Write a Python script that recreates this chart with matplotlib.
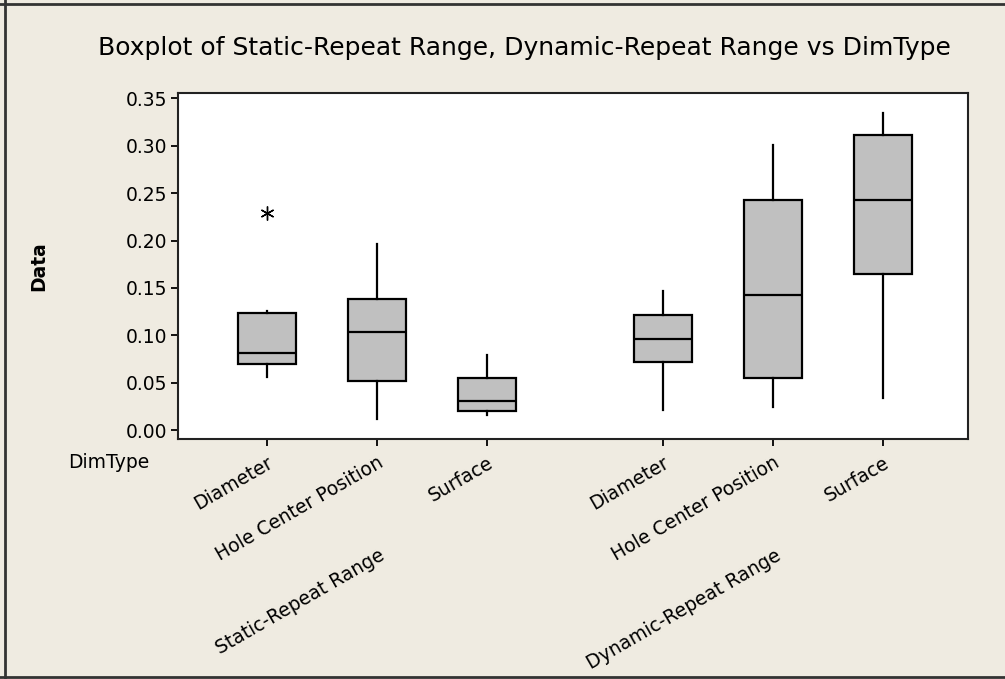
import matplotlib
matplotlib.use("Agg")
import matplotlib.pyplot as plt
from matplotlib.transforms import blended_transform_factory
from matplotlib.lines import Line2D

# ---- data ----
groups = ["Static-Repeat Range", "Dynamic-Repeat Range"]
categories = ["Diameter", "Hole Center Position", "Surface"]
whislo = [0.0566, 0.0119, 0.0158, 0.0214, 0.0249, 0.0341]
q1     = [0.0699, 0.0517, 0.0200, 0.0717, 0.0552, 0.1648]
med    = [0.0812, 0.1037, 0.0313, 0.0963, 0.1423, 0.2428]
q3     = [0.1240, 0.1388, 0.0552, 0.1219, 0.2428, 0.3113]
whishi = [0.1261, 0.1964, 0.0794, 0.1465, 0.3008, 0.3342]
fliers = [[0.2294], [], [], [], [], []]
yticks = [0.00, 0.05, 0.10, 0.15, 0.20, 0.25, 0.30, 0.35]
ytick_labels = ["0.00", "0.05", "0.10", "0.15", "0.20", "0.25", "0.30", "0.35"]

BG = "#EFEBE1"
FS = 13.5
fig = plt.figure(figsize=(10.05, 6.79), dpi=100, facecolor=BG)
ax = fig.add_axes([0.1771, 0.3535, 0.7861, 0.5095])
ax.set_facecolor("white")

positions = [1, 2, 3, 4.6, 5.6, 6.6]
stats = []
for i in range(6):
    stats.append(dict(whislo=whislo[i], q1=q1[i], med=med[i], q3=q3[i],
                      whishi=whishi[i], fliers=fliers[i]))

ax.bxp(stats, positions=positions, widths=0.525, patch_artist=True,
       showcaps=False,
       boxprops=dict(facecolor="#C0C0C0", edgecolor="black", linewidth=1.6),
       medianprops=dict(color="black", linewidth=1.6),
       whiskerprops=dict(color="black", linewidth=1.6),
       flierprops=dict(marker=(6, 2, 0), markersize=10, markeredgecolor="black",
                       markeredgewidth=1.0, linestyle="none"))

ax.set_xlim(0.194, 7.375)
ax.set_ylim(-0.0092, 0.3556)
ax.set_yticks(yticks)
ax.set_yticklabels(ytick_labels)
ax.tick_params(axis="y", direction="out", length=5, width=1.3, labelsize=FS, pad=3)
ax.tick_params(axis="x", direction="out", length=5, width=1.3, labelsize=FS, pad=5)
for s in ax.spines.values():
    s.set_linewidth(1.5)
    s.set_color("#222222")

ax.set_xticks(positions)
ax.set_xticklabels(categories * 2, rotation=30, ha="right",
                   rotation_mode="anchor")

trans = blended_transform_factory(ax.transData, fig.transFigure)
for gi, g in enumerate(groups):
    xc = positions[gi * 3 + 1]
    ax.text(xc + 0.02, 1 - 546 / 679, g, transform=trans, rotation=30,
            ha="right", va="top", rotation_mode="anchor", fontsize=FS)

fig.text(68 / 1005, 1 - 463 / 679, "DimType", fontsize=FS, ha="left", va="center")
ax.set_ylabel("Data", fontsize=13.5, fontweight="bold")
ax.yaxis.set_label_coords((48 - 178) / 790, 0.5)

fig.text(0.522, 1 - 48 / 679,
         "Boxplot of Static-Repeat Range, Dynamic-Repeat Range vs DimType",
         ha="center", va="center", fontsize=18)

# outer window frame
fig.add_artist(Line2D([5 / 1005, 5 / 1005], [0, 1], transform=fig.transFigure,
                      color="#333333", linewidth=2))
fig.add_artist(Line2D([0, 1], [1 - 4 / 679, 1 - 4 / 679], transform=fig.transFigure,
                      color="#333333", linewidth=2))
fig.add_artist(Line2D([0, 1], [1 - 677 / 679, 1 - 677 / 679], transform=fig.transFigure,
                      color="#333333", linewidth=2))

fig.savefig("out.png", dpi=100, facecolor=BG)
